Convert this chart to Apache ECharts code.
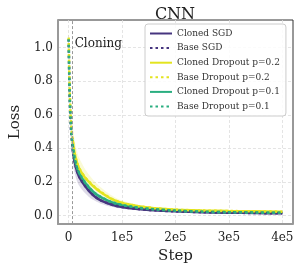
<!DOCTYPE html>
<html><head><meta charset="utf-8">
<script src="https://cdn.jsdelivr.net/npm/echarts@6/dist/echarts.min.js"></script>
<style>html,body{margin:0;padding:0;background:#fff}#c{width:299px;height:269px}</style>
</head><body><div id="c"></div>
<script>
const title = 'CNN';
const xTicks = [0, 100000, 200000, 300000, 400000];
const xTickLabels = ['0', '1e5', '2e5', '3e5', '4e5'];
const yTicks = [0, 0.2, 0.4, 0.6, 0.8, 1.0];
const cloneStep = 7500;
const steps = [0, 1000, 2000, 3500, 5000, 7500, 10000, 15000, 20000, 30000, 40000, 50000, 60000, 80000, 100000, 130000, 160000, 200000, 250000, 300000, 350000, 400000];
const baseSGD =   [1.05, 0.85, 0.70, 0.57, 0.48, 0.40, 0.34, 0.27, 0.23, 0.18, 0.14, 0.11, 0.09, 0.065, 0.05, 0.038, 0.030, 0.024, 0.019, 0.016, 0.014, 0.012];
const clonedSGD = [null, null, null, null, null, 0.40, 0.34, 0.27, 0.228, 0.178, 0.139, 0.11, 0.09, 0.065, 0.05, 0.038, 0.030, 0.024, 0.019, 0.016, 0.014, 0.012];
const sgdLow =    [1.02, 0.78, 0.62, 0.49, 0.40, 0.32, 0.27, 0.21, 0.175, 0.135, 0.105, 0.085, 0.07, 0.052, 0.04, 0.031, 0.025, 0.02, 0.016, 0.013, 0.012, 0.010];
const sgdHigh =   [1.08, 0.90, 0.76, 0.62, 0.52, 0.43, 0.37, 0.29, 0.245, 0.19, 0.15, 0.12, 0.098, 0.071, 0.055, 0.042, 0.033, 0.027, 0.021, 0.018, 0.016, 0.014];
const baseD2 =    [1.06, 0.88, 0.74, 0.61, 0.53, 0.45, 0.39, 0.32, 0.28, 0.23, 0.195, 0.165, 0.14, 0.10, 0.075, 0.055, 0.043, 0.034, 0.029, 0.026, 0.024, 0.022];
const clonedD2 =  [null, null, null, null, null, 0.45, 0.39, 0.32, 0.278, 0.228, 0.193, 0.163, 0.138, 0.099, 0.074, 0.055, 0.043, 0.034, 0.029, 0.026, 0.024, 0.022];
const d2Low =     [1.04, 0.84, 0.70, 0.57, 0.49, 0.41, 0.36, 0.29, 0.25, 0.205, 0.17, 0.145, 0.122, 0.088, 0.066, 0.049, 0.039, 0.031, 0.026, 0.023, 0.021, 0.019];
const d2High =    [1.12, 0.96, 0.83, 0.70, 0.62, 0.54, 0.47, 0.39, 0.34, 0.28, 0.235, 0.198, 0.168, 0.12, 0.088, 0.063, 0.049, 0.038, 0.032, 0.029, 0.027, 0.025];
const baseD1 =    [1.05, 0.86, 0.72, 0.59, 0.50, 0.42, 0.36, 0.29, 0.25, 0.20, 0.16, 0.13, 0.11, 0.08, 0.062, 0.046, 0.036, 0.028, 0.022, 0.019, 0.017, 0.015];
const clonedD1 =  [null, null, null, null, null, 0.42, 0.36, 0.29, 0.248, 0.198, 0.159, 0.129, 0.109, 0.079, 0.061, 0.046, 0.036, 0.028, 0.022, 0.019, 0.017, 0.015];
const d1Low =     [1.03, 0.82, 0.68, 0.55, 0.46, 0.385, 0.33, 0.265, 0.225, 0.18, 0.145, 0.118, 0.099, 0.072, 0.056, 0.042, 0.033, 0.026, 0.020, 0.017, 0.015, 0.013];
const d1High =    [1.08, 0.90, 0.77, 0.64, 0.55, 0.46, 0.40, 0.32, 0.275, 0.22, 0.177, 0.143, 0.121, 0.088, 0.068, 0.05, 0.039, 0.030, 0.024, 0.021, 0.019, 0.017];
const names = ['Cloned SGD', 'Base SGD', 'Cloned Dropout p=0.2', 'Base Dropout p=0.2', 'Cloned Dropout p=0.1', 'Base Dropout p=0.1'];
const cPurple = '#46357f', cYellow = '#e3e41f', cGreen = '#2aae80';

const pair = arr => steps.map((s, i) => [s, arr[i]]);
const FONT = 'DejaVu Serif';

function band(lo, hi, color) {
  return {
    type:'custom', silent:true, z:1, clip:true,
    data:[0],
    renderItem:(params, api) => {
      const pts = [];
      for (let i = 0; i < steps.length; i++) pts.push(api.coord([steps[i], hi[i]]));
      for (let i = steps.length - 1; i >= 0; i--) pts.push(api.coord([steps[i], lo[i]]));
      return {type:'polygon', shape:{points:pts, smooth:0.3}, style:{fill:color, opacity:0.18}};
    }
  };
}
function line(name, arr, color, dotted, z) {
  return {type:'line', name:name, data:pair(arr), symbol:'none', smooth:0.3, connectNulls:false, z:z,
    itemStyle:{color:color},
    lineStyle:{color:color, width:2.5, type: dotted ? [2.5, 3] : 'solid', cap:'butt'}};
}

const chart = echarts.init(document.getElementById('c'), null, {renderer:'canvas'});
const series = [
  band(sgdLow, sgdHigh, cPurple),
  band(d2Low, d2High, cYellow),
  band(d1Low, d1High, cGreen),
  line(names[0], clonedSGD, cPurple, false, 3),
  line(names[1], baseSGD, cPurple, true, 4),
  line(names[2], clonedD2, cYellow, false, 3),
  line(names[3], baseD2, cYellow, true, 4),
  line(names[4], clonedD1, cGreen, false, 3),
  line(names[5], baseD1, cGreen, true, 4),
];
series[series.length-1].markLine = {
  silent:true, symbol:'none', label:{show:false},
  lineStyle:{color:'#999', type:[3,2], width:1},
  data:[{xAxis: cloneStep}]
};
chart.setOption({
  animation:false,
  backgroundColor:'#fff',
  title:{text:title, left:170, top:2, textAlign:'center',
    textStyle:{fontFamily:FONT, fontSize:16, fontWeight:'normal', color:'#222'}},
  grid:{left:47, top:20, right:6, bottom:40, show:true, borderColor:'#333', borderWidth:1},
  legend:{
    data:names, orient:'vertical', left:145, top:24,
    itemWidth:22, itemHeight:8, itemGap:5.6,
    padding:[5, 6, 5, 4],
    itemStyle:{opacity:0},
    backgroundColor:'rgba(255,255,255,0.85)', borderColor:'#ccc', borderWidth:1, borderRadius:3,
    textStyle:{fontFamily:FONT, fontSize:9, color:'#333'}
  },
  xAxis:{
    type:'value', min:-20000, max:420000,
    name:'Step', nameLocation:'middle', nameGap:24,
    nameTextStyle:{fontFamily:FONT, fontSize:15, color:'#222'},
    axisLine:{show:true, onZero:false, lineStyle:{color:'#999', width:2}},
    axisTick:{show:false, customValues:xTicks},
    axisLabel:{customValues:xTicks, formatter: v => xTickLabels[xTicks.indexOf(v)], fontFamily:FONT, fontSize:12, color:'#222', margin:8},
    splitLine:{show:true, customValues:xTicks, lineStyle:{color:'#ddd', type:[3,2], width:0.8}}
  },
  yAxis:{
    type:'value', min:-0.052, max:1.165,
    name:'Loss', nameLocation:'middle', nameGap:32, nameRotate:90,
    nameTextStyle:{fontFamily:FONT, fontSize:15, color:'#222'},
    axisLine:{show:true, onZero:false, lineStyle:{color:'#999', width:2}},
    axisTick:{show:false, customValues:yTicks},
    axisLabel:{customValues:yTicks, formatter: v => v.toFixed(1), fontFamily:FONT, fontSize:12, color:'#222', margin:5},
    splitLine:{show:true, customValues:yTicks, lineStyle:{color:'#ddd', type:[3,2], width:0.8}}
  },
  series:series
});
const p = chart.convertToPixel({gridIndex:0}, [cloneStep, 1.02]);
chart.setOption({graphic:[{type:'text', x:p[0]+2, y:p[1], style:{text:'Cloning', fontFamily:FONT, fontSize:12, fill:'#222', verticalAlign:'middle'}, z:10}]});
</script></body></html>
